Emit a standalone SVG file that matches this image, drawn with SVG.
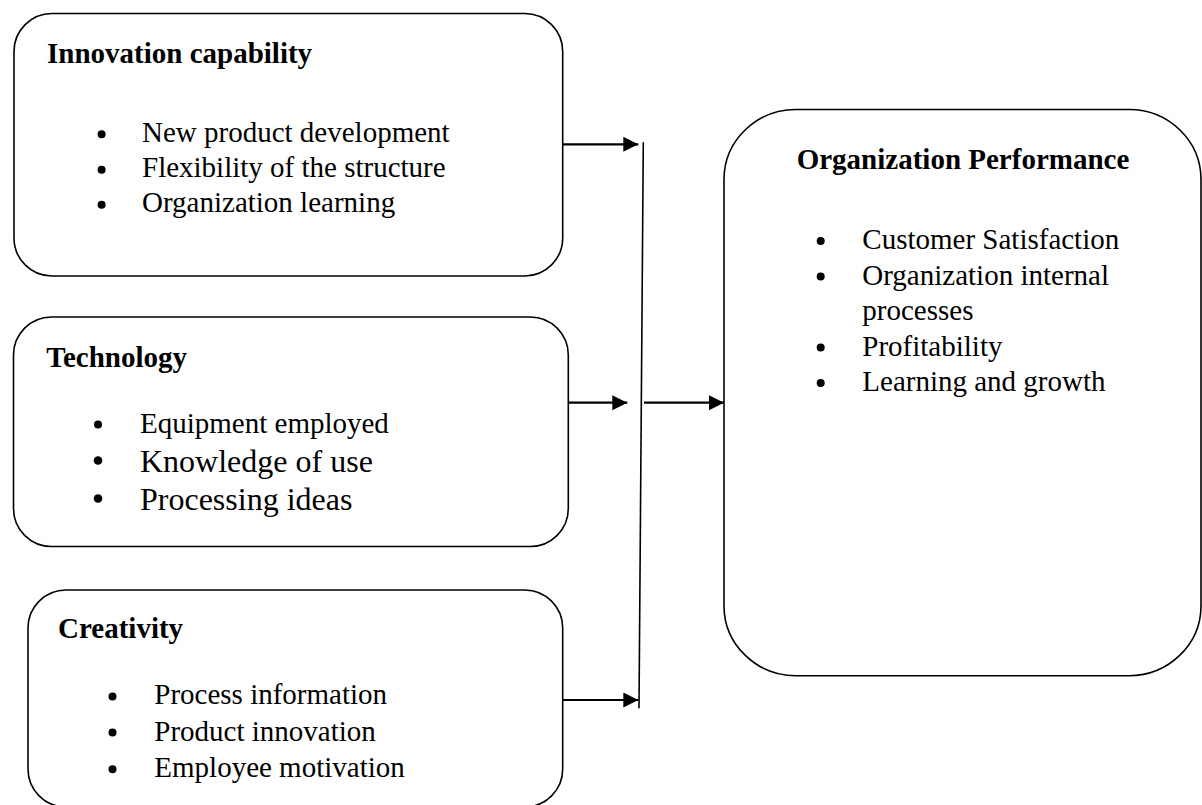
<svg xmlns="http://www.w3.org/2000/svg" width="1202" height="805" viewBox="0 0 1202 805">
<style>
.box{fill:#fff;stroke:#000;stroke-width:1.6}
.t{font-family:"Liberation Serif","Times New Roman",serif;fill:#000}
.h{font-weight:bold;font-size:29px}
.b{font-size:29px}
.b32{font-size:32px}
.conn{stroke:#000;fill:none;stroke-width:2.2}
.vline{stroke:#000;fill:none;stroke-width:1.6}
.dot{fill:#000}
</style>
<defs>
<marker id="ah" markerUnits="userSpaceOnUse" markerWidth="16" markerHeight="16" refX="15" refY="7.5" orient="auto">
<path d="M0,0 L15,7.5 L0,15 z" fill="#000"/>
</marker>
</defs>
<rect width="1202" height="805" fill="#fff"/>

<g id="node-innovation">
<rect class="box" x="14" y="13.5" width="548.7" height="262.5" rx="38" ry="38"/>
<text class="t h" x="47" y="62.5">Innovation capability</text>
<circle class="dot" cx="101.6" cy="134.2" r="4"/>
<circle class="dot" cx="101.6" cy="169.8" r="4"/>
<circle class="dot" cx="101.6" cy="204.8" r="4"/>
<text class="t b" x="142" y="141.7">New product development</text>
<text class="t b" x="142" y="177.3">Flexibility of the structure</text>
<text class="t b" x="142" y="212.3">Organization learning</text>
</g>

<g id="node-technology">
<rect class="box" x="13.5" y="317" width="554.8" height="229.5" rx="38" ry="38"/>
<text class="t h" x="46.3" y="366.7">Technology</text>
<circle class="dot" cx="98" cy="424.5" r="4"/>
<circle class="dot" cx="98" cy="460.5" r="4.3"/>
<circle class="dot" cx="98" cy="498.5" r="4.3"/>
<text class="t b" x="140" y="433.3">Equipment employed</text>
<text class="t b32" x="140" y="471.7">Knowledge of use</text>
<text class="t b32" x="140" y="509.5">Processing ideas</text>
</g>

<g id="node-creativity">
<rect class="box" x="28" y="590" width="534.7" height="217" rx="38" ry="38"/>
<text class="t h" x="58" y="638.3">Creativity</text>
<circle class="dot" cx="112.5" cy="696.5" r="4"/>
<circle class="dot" cx="112.5" cy="732.5" r="4"/>
<circle class="dot" cx="112.5" cy="769.2" r="4"/>
<text class="t b" x="154.3" y="704">Process information</text>
<text class="t b" x="154.3" y="740.7">Product innovation</text>
<text class="t b" x="154.3" y="777.3">Employee motivation</text>
</g>

<g id="node-performance">
<rect class="box" x="724" y="109.5" width="477" height="566.2" rx="72" ry="70"/>
<text class="t h" x="796.7" y="169">Organization Performance</text>
<circle class="dot" cx="820.7" cy="241" r="4"/>
<circle class="dot" cx="820.7" cy="276.5" r="4"/>
<circle class="dot" cx="820.7" cy="347.5" r="4"/>
<circle class="dot" cx="820.7" cy="383" r="4"/>
<text class="t b" x="862.3" y="249">Customer Satisfaction</text>
<text class="t b" x="862.3" y="284.5">Organization internal</text>
<text class="t b" x="862.3" y="320">processes</text>
<text class="t b" x="862.3" y="355.5">Profitability</text>
<text class="t b" x="862.3" y="391">Learning and growth</text>
</g>

<g id="connectors">
<line class="vline" x1="643.3" y1="142.3" x2="639" y2="708.3"/>
<line class="conn" x1="562.7" y1="144.3" x2="638.3" y2="144.3" marker-end="url(#ah)"/>
<line class="conn" x1="568.3" y1="402.7" x2="627.3" y2="402.7" marker-end="url(#ah)"/>
<line class="conn" x1="562.7" y1="700" x2="638.3" y2="700" marker-end="url(#ah)"/>
<line class="conn" x1="644" y1="402.7" x2="724" y2="402.7" marker-end="url(#ah)"/>
</g>
</svg>
